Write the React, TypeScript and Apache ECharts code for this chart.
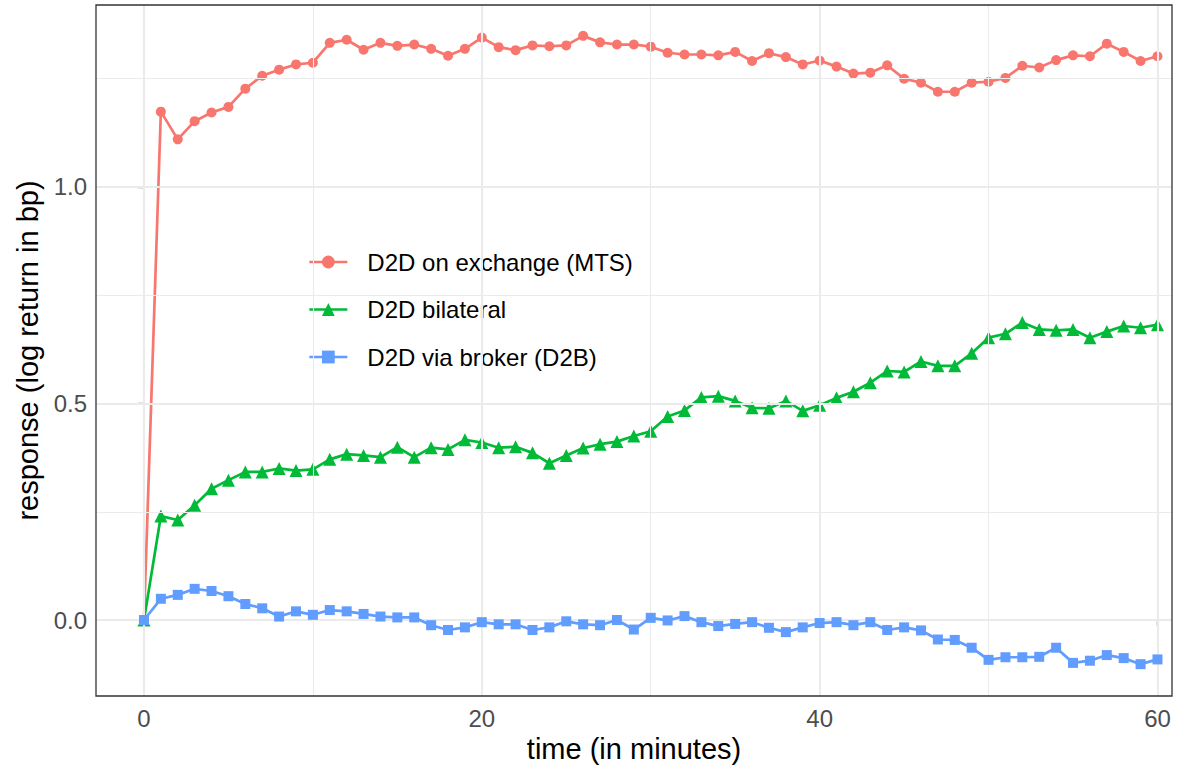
import React, { useEffect, useRef } from "react";
import * as echarts from "echarts";

const minutes = [
  0, 1, 2, 3, 4, 5, 6, 7, 8, 9, 10, 11, 12, 13, 14, 15, 16, 17, 18, 19, 20,
  21, 22, 23, 24, 25, 26, 27, 28, 29, 30, 31, 32, 33, 34, 35, 36, 37, 38, 39, 40,
  41, 42, 43, 44, 45, 46, 47, 48, 49, 50, 51, 52, 53, 54, 55, 56, 57, 58, 59, 60,
];

const seriesNames = ["D2D on exchange (MTS)", "D2D bilateral", "D2D via broker (D2B)"];

const mtsValues = [
  0,
  1.174, 1.110, 1.152, 1.172, 1.185, 1.227, 1.257, 1.271, 1.283, 1.287,
  1.333, 1.340, 1.317, 1.333, 1.326, 1.329, 1.319, 1.303, 1.319, 1.345,
  1.323, 1.316, 1.327, 1.325, 1.327, 1.349, 1.334, 1.329, 1.329, 1.324,
  1.310, 1.306, 1.306, 1.304, 1.312, 1.291, 1.309, 1.300, 1.283, 1.292,
  1.278, 1.262, 1.264, 1.281, 1.250, 1.241, 1.220, 1.220, 1.241, 1.243,
  1.252, 1.280, 1.276, 1.293, 1.304, 1.302, 1.331, 1.312, 1.291, 1.302,
];

const bilateralValues = [
  0,
  0.240, 0.231, 0.265, 0.303, 0.323, 0.342, 0.342, 0.350, 0.345, 0.348,
  0.371, 0.383, 0.380, 0.376, 0.399, 0.376, 0.398, 0.394, 0.416, 0.410,
  0.398, 0.400, 0.386, 0.362, 0.380, 0.397, 0.406, 0.412, 0.425, 0.436,
  0.470, 0.484, 0.514, 0.517, 0.506, 0.490, 0.489, 0.506, 0.483, 0.496,
  0.513, 0.527, 0.548, 0.575, 0.573, 0.597, 0.587, 0.587, 0.616, 0.652,
  0.661, 0.687, 0.671, 0.669, 0.671, 0.652, 0.666, 0.679, 0.675, 0.682,
];

const brokerValues = [
  0,
  0.049, 0.058, 0.072, 0.067, 0.055, 0.037, 0.027, 0.008, 0.020, 0.012,
  0.023, 0.020, 0.014, 0.008, 0.006, 0.006, -0.012, -0.023, -0.017, -0.005,
  -0.010, -0.010, -0.023, -0.017, -0.003, -0.010, -0.012, 0.000, -0.022, 0.005,
  -0.001, 0.009, -0.005, -0.014, -0.009, -0.005, -0.018, -0.028, -0.017, -0.007,
  -0.005, -0.012, -0.005, -0.023, -0.017, -0.024, -0.045, -0.046, -0.064, -0.092,
  -0.086, -0.086, -0.085, -0.064, -0.099, -0.094, -0.081, -0.088, -0.102, -0.091,
];

const xMajorTicks = [0, 20, 40, 60];
const xMinorGrid = [10, 30, 50];
const yMajorTicks = [0, 0.5, 1.0];
const yMinorGrid = [0.25, 0.75, 1.25];

const COLORS = ["#F8766D", "#00BA38", "#619CFF"];
const SYMBOLS = ["circle", "triangle", "rect"];
const SYMBOL_SIZES = [10, 13, 10];
const FONT = "'Liberation Sans', Arial, Helvetica, sans-serif";

export default function App() {
  const ref = useRef<HTMLDivElement>(null);

  useEffect(() => {
    if (!ref.current) return;
    const chart = echarts.init(ref.current, undefined, { renderer: "svg" });

    const valuesList = [mtsValues, bilateralValues, brokerValues];
    const dataSeries = valuesList.map((vals, i) => ({
      name: seriesNames[i],
      type: "line",
      data: minutes.map((m, j) => [m, vals[j]]),
      symbol: SYMBOLS[i],
      symbolSize: SYMBOL_SIZES[i],
      showAllSymbol: true,
      itemStyle: { color: COLORS[i] },
      lineStyle: { color: COLORS[i], width: 2.7 },
      z: 3 + i,
    }));

    const gridLineColor = "#EBEBEB";
    const markLineData = [
      ...yMinorGrid.map((v) => ({ yAxis: v, lineStyle: { color: gridLineColor, width: 1.1, type: "solid" } })),
      ...xMinorGrid.map((v) => ({ xAxis: v, lineStyle: { color: gridLineColor, width: 1.1, type: "solid" } })),
      ...yMajorTicks.map((v) => ({ yAxis: v, lineStyle: { color: gridLineColor, width: 2.1, type: "solid" } })),
      ...xMajorTicks.map((v) => ({ xAxis: v, lineStyle: { color: gridLineColor, width: 2.1, type: "solid" } })),
    ];

    const option = {
      animation: false,
      backgroundColor: "#FFFFFF",
      textStyle: { fontFamily: FONT },
      grid: {
        left: 96,
        right: 8,
        top: 5,
        bottom: 76,
        show: true,
        borderColor: "#333333",
        borderWidth: 1.3,
        backgroundColor: "transparent",
        z: 10,
      },
      legend: {
        data: seriesNames.map((n, i) => ({
          name: n,
          lineStyle: { width: 2.7, color: COLORS[i] },
        })),
        orient: "vertical",
        left: 287,
        top: 207,
        backgroundColor: "#FFFFFF",
        padding: [40, 19, 22, 21],
        itemWidth: 38,
        itemHeight: 16,
        itemGap: 17.5,
        lineStyle: { width: 2.7 },
        textStyle: {
          fontFamily: FONT,
          fontSize: 24,
          color: "#000000",
          lineHeight: 30,
          padding: [0, 0, 0, 15],
        },
        z: 5,
      },
      xAxis: {
        type: "value",
        min: -2.84,
        max: 60.86,
        name: "time (in minutes)",
        nameLocation: "middle",
        nameGap: 38,
        nameTextStyle: { fontFamily: FONT, fontSize: 29, color: "#000000" },
        axisLine: { show: false },
        axisTick: {
          show: true,
          customValues: xMajorTicks,
          length: 6,
          lineStyle: { color: "#333333", width: 1.3 },
        },
        axisLabel: {
          customValues: xMajorTicks,
          fontFamily: FONT,
          fontSize: 24,
          color: "#4D4D4D",
          margin: 10,
        },
        splitLine: { show: false },
      },
      yAxis: {
        type: "value",
        min: -0.1755,
        max: 1.4203,
        name: "response (log return in bp)",
        nameLocation: "middle",
        nameRotate: 90,
        nameGap: 50,
        nameTextStyle: { fontFamily: FONT, fontSize: 29, color: "#000000" },
        axisLine: { show: false },
        axisTick: {
          show: true,
          customValues: yMajorTicks,
          length: 6,
          lineStyle: { color: "#333333", width: 1.3 },
        },
        axisLabel: {
          customValues: yMajorTicks,
          formatter: (v: number) => v.toFixed(1),
          fontFamily: FONT,
          fontSize: 24,
          color: "#4D4D4D",
          margin: 9,
        },
        splitLine: { show: false },
      },
      series: [
        {
          name: "grid",
          type: "line",
          data: [],
          z: 0,
          silent: true,
          markLine: {
            silent: true,
            symbol: ["none", "none"],
            label: { show: false },
            emphasis: { disabled: true },
            animation: false,
            data: markLineData,
          },
        },
        ...dataSeries,
      ],
    };

    chart.setOption(option as any);
    return () => chart.dispose();
  }, []);

  return (
    <div
      ref={ref}
      style={{ position: "absolute", left: 0, top: 0, width: 1180, height: 772 }}
    />
  );
}
